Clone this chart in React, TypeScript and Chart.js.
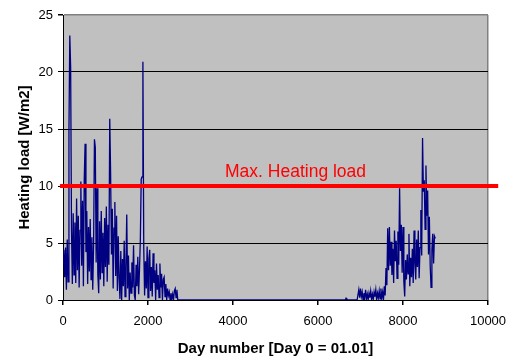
import React, { useEffect, useRef } from "react";
import { Chart, registerables } from "chart.js";

Chart.register(...registerables);

const HOUR_STEP = 20;
const WINTER_START = 0;
const winterLoad = [
  3.2, 4.4, 2.0, 4.6, 0.9, 5.3, 1.6, 14.9, 23.2, 20.4,
  6.2, 1.4, 7.6, 2.2, 6.8, 1.5, 8.9, 2.6, 7.4, 1.1,
  6.1, 10.4, 3.0, 8.7, 1.2, 10.6, 13.7, 4.2, 7.8, 1.4,
  6.4, 2.5, 7.1, 1.8, 5.5, 0.9, 4.8, 14.1, 13.4, 3.3,
  9.8, 2.2, 0.6, 6.9, 1.8, 7.8, 2.4, 5.9, 1.2, 7.2,
  2.9, 8.2, 1.6, 6.6, 3.1, 15.9, 11.2, 4.0, 8.0, 1.0,
  6.3, 8.6, 2.1, 7.4, 0.8, 5.6, 1.9, 0.1, 4.3, 0.0,
  3.6, 1.2, 5.2, 0.3, 2.8, 7.5, 1.0, 3.9, 0.0, 2.4,
  0.6, 3.3, 1.1, 4.8, 0.4, 0.0, 3.1, 1.2, 3.8, 0.5,
  2.7, 5.3, 10.6, 10.8, 20.9, 4.6, 0.4, 3.4, 1.0, 4.7,
  0.2, 3.6, 4.4, 0.8, 2.9, 0.3, 4.1, 1.5, 2.6, 0.0,
  3.2, 0.9, 2.2, 0.2, 3.2, 1.1, 2.3, 0.0, 1.8, 2.0,
  0.3, 1.4, 0.0, 1.0, 0.4, 0.7, 0.0, 0.6, 0.1, 0.5,
  0.0, 0.8, 1.0, 0.2, 0.9, 0.0, 0.0,
];
const summerHours = [2740, 6640, 6660, 6680, 6920];
const summerLoad = [0, 0, 0.15, 0, 0];
const AUTUMN_START = 6940;
const autumnLoad = [
  0.0, 0.9, 0.2, 1.0, 0.3, 0.7, 0.0, 0.6, 0.2, 0.9,
  0.1, 0.5, 0.0, 0.6, 0.2, 0.8, 0.1, 0.5, 0.0, 0.7,
  0.3, 0.9, 0.0, 0.6, 0.2, 0.8, 0.1, 1.0, 0.2, 0.7,
  0.0, 1.2, 0.4, 2.8, 1.3, 6.3, 2.6, 6.4, 3.0, 5.1,
  2.2, 4.5, 1.5, 6.1, 3.4, 5.2, 1.9, 6.0, 3.1, 9.8,
  4.3, 6.6, 2.4, 6.4, 1.6, 0.3, 3.5, 1.8, 4.0, 2.3,
  5.8, 1.2, 3.7, 2.0, 4.5, 1.5, 6.1, 3.2, 1.8, 5.3,
  2.9, 6.1, 1.9, 4.6, 7.9, 3.9, 14.2, 9.5, 10.5, 6.2,
  11.8, 7.4, 9.6, 4.0, 7.3, 3.0, 1.1, 4.4, 5.8, 3.2,
  5.6, 5.4,
];

const xTicks = [0, 2000, 4000, 6000, 8000, 10000];
const yTicks = [0, 5, 10, 15, 20, 25];
const maxLoad = 10;
const maxLineHours = [-70, 10240];
const maxLabel = "Max. Heating load";
const maxLabelHour = 3812;
const xTitle = "Day number [Day 0 = 01.01]";
const yTitle = "Heating load [W/m2]";

const FONT = "'Liberation Sans', Arial, Helvetica, sans-serif";

export default function App() {
  const canvasRef = useRef<HTMLCanvasElement | null>(null);

  useEffect(() => {
    const canvas = canvasRef.current;
    if (!canvas) return;

    const loadPoints: { x: number; y: number }[] = [];
    winterLoad.forEach((v, i) => loadPoints.push({ x: WINTER_START + i * HOUR_STEP, y: v }));
    summerHours.forEach((h, i) => loadPoints.push({ x: h, y: summerLoad[i] }));
    autumnLoad.forEach((v, i) => loadPoints.push({ x: AUTUMN_START + i * HOUR_STEP, y: v }));

    const plotPlugin = {
      id: "plotDecor",
      beforeDraw(chart: any) {
        const { ctx, chartArea: a } = chart;
        ctx.save();
        ctx.fillStyle = "#C0C0C0";
        ctx.fillRect(a.left, a.top, a.right - a.left, a.bottom - a.top);
        ctx.restore();
      },
      afterDatasetsDraw(chart: any) {
        const { ctx } = chart;
        const xs = chart.scales.x;
        const ys = chart.scales.y;
        const yPix = ys.getPixelForValue(maxLoad);
        ctx.save();
        // max heating load reference line
        ctx.strokeStyle = "#FF0000";
        ctx.lineWidth = 4;
        ctx.beginPath();
        ctx.moveTo(xs.getPixelForValue(maxLineHours[0]), yPix);
        ctx.lineTo(xs.getPixelForValue(maxLineHours[1]), yPix);
        ctx.stroke();
        // label
        ctx.fillStyle = "#FF0000";
        ctx.font = `17.5px ${FONT}`;
        ctx.textAlign = "left";
        ctx.textBaseline = "alphabetic";
        ctx.fillText(maxLabel, xs.getPixelForValue(maxLabelHour), yPix - 9);
        ctx.restore();
      },
    };

    const chart = new Chart(canvas, {
      type: "line",
      data: {
        datasets: [
          {
            label: yTitle,
            data: loadPoints,
            borderColor: "#000080",
            borderWidth: 1.3,
            pointRadius: 0,
            fill: false,
            tension: 0,
          },
        ],
      },
      options: {
        animation: false,
        responsive: false,
        maintainAspectRatio: false,
        layout: { padding: { top: 15, right: 19, left: 0, bottom: 0 } },
        plugins: {
          legend: { display: false },
          tooltip: { enabled: false },
        },
        scales: {
          x: {
            type: "linear",
            min: 0,
            max: 10000,
            afterBuildTicks: (s: any) => {
              s.ticks = xTicks.map((v) => ({ value: v }));
            },
            afterFit: (s: any) => {
              s.height = 58;
              s.paddingLeft = 0;
              s.paddingRight = 0;
            },
            ticks: {
              color: "#000",
              font: { family: FONT, size: 13 },
              padding: 9,
              maxRotation: 0,
              autoSkip: false,
              callback: (v: any) => String(v),
            },
            grid: {
              color: (c: any) => (c.tick && c.tick.value === 10000 ? "#808080" : "rgba(0,0,0,0)"),
              tickColor: "#000",
              tickLength: 5,
              lineWidth: 1.5,
            },
            border: { color: "#000", width: 1 },
            title: {
              display: true,
              text: xTitle,
              color: "#000",
              font: { family: FONT, size: 15, weight: "bold" },
              padding: { top: 0, bottom: 0 },
            },
          },
          y: {
            type: "linear",
            min: 0,
            max: 25,
            afterBuildTicks: (s: any) => {
              s.ticks = yTicks.map((v) => ({ value: v }));
            },
            afterFit: (s: any) => {
              s.width = 63;
              s.paddingTop = 0;
              s.paddingBottom = 0;
            },
            ticks: {
              color: "#000",
              font: { family: FONT, size: 13 },
              padding: 5,
              callback: (v: any) => String(v),
            },
            grid: {
              color: (c: any) => (c.tick && c.tick.value === 25 ? "#808080" : "#000"),
              tickColor: "#000",
              tickLength: 5,
              lineWidth: (c: any) => (c.tick && c.tick.value === 25 ? 1.5 : 1),
            },
            border: { color: "#000", width: 1 },
            title: {
              display: true,
              text: yTitle,
              color: "#000",
              font: { family: FONT, size: 15, weight: "bold" },
              padding: { top: 16, bottom: 0 },
            },
          },
        },
      },
      plugins: [plotPlugin],
    });

    return () => chart.destroy();
  }, []);

  return (
    <div style={{ position: "fixed", left: 0, top: 0, width: 507, height: 358, background: "#fff" }}>
      <canvas ref={canvasRef} width={507} height={358} style={{ display: "block" }} />
    </div>
  );
}
